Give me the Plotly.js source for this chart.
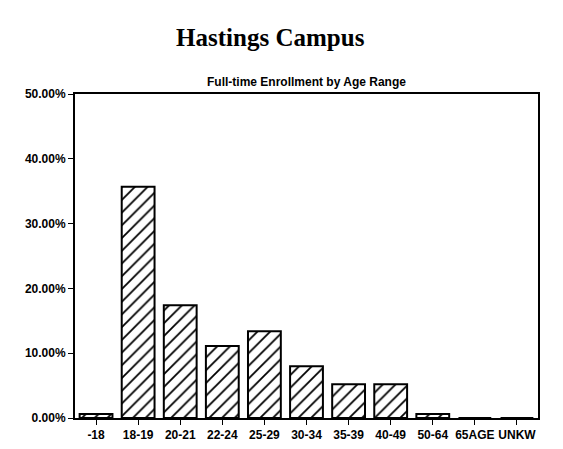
<!DOCTYPE html>
<html>
<head>
<meta charset="utf-8">
<script src="https://cdn.plot.ly/plotly-3.0.1.min.js"></script>
<style>html,body{margin:0;padding:0;background:#fff;}#chart{width:563px;height:449px;}</style>
</head>
<body>
<div id="chart"></div>
<script>
const categories = ['-18', '18-19', '20-21', '22-24', '25-29', '30-34', '35-39', '40-49', '50-64', '65AGE', 'UNKW'];
const enrollmentPct = [0.6, 35.7, 17.4, 11.1, 13.4, 8.0, 5.2, 5.2, 0.6, 0, 0];
const yTickVals = [0, 10, 20, 30, 40, 50];
const yTickText = ['0.00%', '10.00%', '20.00%', '30.00%', '40.00%', '50.00%'];
const chartTitle = 'Hastings Campus';
const subTitle = 'Full-time Enrollment by Age Range';

const trace = {
  type: 'bar',
  x: categories,
  y: enrollmentPct,
  marker: {
    color: 'white',
    line: {color: 'black', width: 2},
    pattern: {shape: '/', fgcolor: 'black', bgcolor: 'white', size: 9, solidity: 0.2}
  },
  hoverinfo: 'none'
};

const layout = {
  width: 563, height: 449,
  margin: {l: 75, r: 25, t: 94, b: 31},
  paper_bgcolor: 'white', plot_bgcolor: 'white',
  showlegend: false,
  bargap: 0.22,
  title: {text: '<b>' + chartTitle + '</b>', x: 0.48, xanchor: 'center', y: 0.918, yanchor: 'middle',
          font: {family: 'Liberation Serif, DejaVu Serif, serif', size: 25, color: 'black'}},
  annotations: [{
    text: '<b>' + subTitle + '</b>', xref: 'paper', yref: 'paper', x: 0.5, y: 1.0, yshift: 3,
    xanchor: 'center', yanchor: 'bottom', showarrow: false,
    font: {family: 'Liberation Sans, Arial, sans-serif', size: 12, color: 'black'}
  }],
  xaxis: {
    type: 'category', tickangle: 0,
    showline: true, linecolor: 'black', linewidth: 2, mirror: true,
    ticks: 'outside', ticklen: 5, tickcolor: 'black', tickwidth: 1,
    showgrid: false, zeroline: false,
    tickfont: {family: 'Liberation Sans, Arial, sans-serif', size: 12, color: 'black', weight: 'bold'}
  },
  yaxis: {
    range: [0, 50], tickmode: 'array', tickvals: yTickVals, ticktext: yTickText,
    showline: true, linecolor: 'black', linewidth: 2, mirror: true,
    ticks: 'outside', ticklen: 5, tickcolor: 'black', tickwidth: 1,
    showgrid: false, zeroline: false,
    tickfont: {family: 'Liberation Sans, Arial, sans-serif', size: 12, color: 'black', weight: 'bold'}
  }
};

Plotly.newPlot('chart', [trace], layout, {displayModeBar: false, staticPlot: true});
</script>
</body>
</html>
